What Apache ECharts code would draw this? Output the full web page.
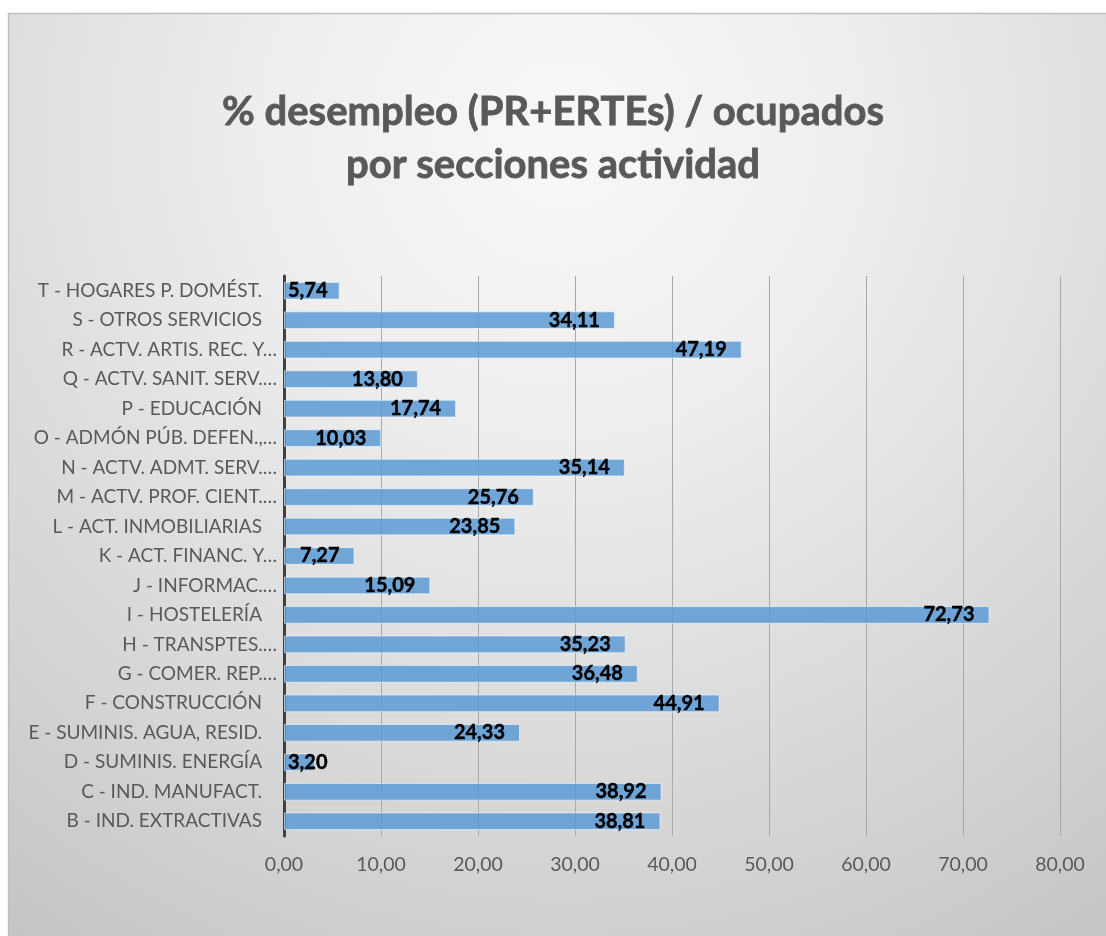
<!DOCTYPE html>
<html>
<head>
<meta charset="utf-8">
<script src="https://cdn.jsdelivr.net/npm/echarts@6/dist/echarts.min.js"></script>
<style>
html,body{margin:0;padding:0;background:#fff;}
#chart{width:1106px;height:936px;}
</style>
</head>
<body>
<div id="chart"></div>
<script>
// Categories listed bottom to top
const categories = [
  'B - IND. EXTRACTIVAS',
  'C - IND. MANUFACT.',
  'D - SUMINIS. ENERGÍA',
  'E - SUMINIS. AGUA, RESID.',
  'F - CONSTRUCCIÓN',
  'G - COMER. REP.…',
  'H - TRANSPTES.…',
  'I - HOSTELERÍA',
  'J - INFORMAC.…',
  'K - ACT. FINANC. Y…',
  'L - ACT. INMOBILIARIAS',
  'M - ACTV. PROF. CIENT.…',
  'N - ACTV. ADMT. SERV.…',
  'O - ADMÓN PÚB. DEFEN.,…',
  'P - EDUCACIÓN',
  'Q - ACTV. SANIT. SERV.…',
  'R - ACTV. ARTIS. REC. Y…',
  'S - OTROS SERVICIOS',
  'T - HOGARES P. DOMÉST.'
];
const values = [38.81, 38.92, 3.20, 24.33, 44.91, 36.48, 35.23, 72.73, 15.09, 7.27, 23.85, 25.76, 35.14, 10.03, 17.74, 13.80, 47.19, 34.11, 5.74];
const xTicks = [0, 10, 20, 30, 40, 50, 60, 70, 80];
const titleLines = ['% desempleo (PR+ERTEs) / ocupados', 'por secciones actividad'];

const FONT = 'Lato';
const fmt = v => v.toFixed(2).replace('.', ',');

const seriesData = values.map(v => {
  const item = { value: v };
  if (v < 6) {
    item.label = { position: 'insideLeft', distance: 4 };
  }
  return item;
});

const chart = echarts.init(document.getElementById('chart'), null, { renderer: 'canvas' });
chart.setOption({
  backgroundColor: '#ffffff',
  animation: false,
  graphic: [{
    type: 'rect',
    z: -10,
    silent: true,
    shape: { x: 8.5, y: 13.5, width: 1110, height: 940 },
    style: {
      fill: {
        type: 'radial', x: 0.5, y: 0.13, r: 1.05,
        colorStops: [
          { offset: 0, color: '#f8f8f8' },
          { offset: 0.3, color: '#eeeeee' },
          { offset: 1, color: '#c4c4c4' }
        ]
      },
      stroke: '#bfbfbf',
      lineWidth: 1.5
    }
  }],
  title: {
    text: titleLines.join('\n'),
    left: 'center',
    top: 81,
    textStyle: {
      fontFamily: FONT,
      fontSize: 40,
      fontWeight: 'bold',
      color: '#595959',
      lineHeight: 53,
      textBorderColor: '#595959',
      textBorderWidth: 0.8
    }
  },
  grid: { left: 284, right: 46, top: 276, bottom: 100, containLabel: false },
  xAxis: {
    type: 'value',
    min: 0,
    max: 80,
    interval: 10,
    axisLine: { show: false },
    axisTick: { show: false },
    splitLine: { show: true, lineStyle: { color: '#a8a8a8', width: 1 } },
    axisLabel: {
      margin: 19,
      fontFamily: FONT,
      fontSize: 19.5,
      color: '#595959',
      formatter: v => xTicks.includes(v) ? fmt(v) : ''
    }
  },
  yAxis: {
    type: 'category',
    data: categories,
    axisLine: { show: true, lineStyle: { color: '#404040', width: 3 } },
    axisTick: { show: false },
    splitLine: { show: false },
    axisLabel: {
      margin: 7,
      fontFamily: FONT,
      fontSize: 19,
      color: '#595959',
      formatter: v => v.endsWith('…') ? v : '{p|' + v + '}',
      rich: {
        p: { fontFamily: FONT, fontSize: 19, color: '#595959', padding: [0, 15, 0, 0] }
      }
    }
  },
  series: [{
    type: 'bar',
    data: seriesData,
    barWidth: '60%',
    itemStyle: {
      color: 'rgba(91,155,213,0.85)',
      borderColor: 'rgba(255,255,255,0.55)',
      borderWidth: 1
    },
    label: {
      show: true,
      position: 'insideRight',
      distance: 15,
      fontFamily: FONT,
      fontSize: 20,
      fontWeight: 'bold',
      color: '#000000',
      textBorderColor: '#000000',
      textBorderWidth: 0.4,
      formatter: p => fmt(p.value)
    }
  }]
});
</script>
</body>
</html>
